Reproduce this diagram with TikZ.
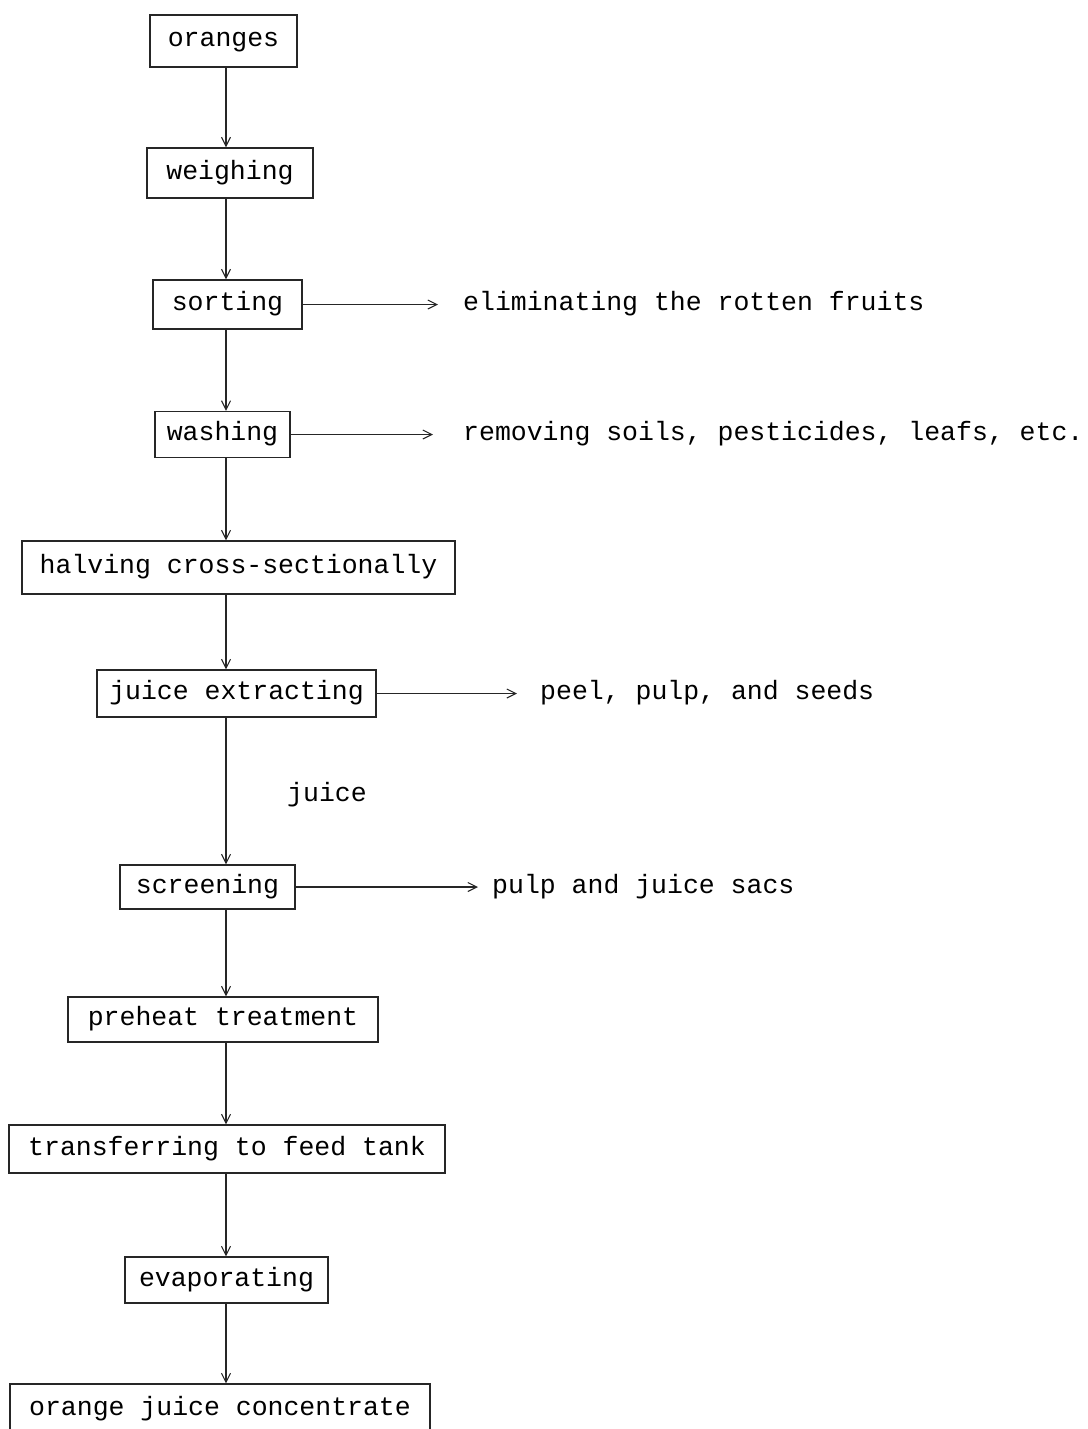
\documentclass[tikz,border=0pt]{standalone}
\usepackage{fontspec}
\setmonofont{Liberation Mono}
\usetikzlibrary{arrows.meta}

\begin{document}
\begin{tikzpicture}[x=1pt,y=-1pt]
\tikzstyle{every node}=[font=\ttfamily\fontsize{26.5}{30}\selectfont, text height=18pt, text depth=6pt]
\tikzstyle{stage}=[draw=black!85, line width=1.1pt, inner sep=0pt]
\tikzstyle{flow}=[-{Straight Barb[length=9pt,width=9pt]}, draw=black!85, line width=1.1pt]
\tikzstyle{waste}=[anchor=west, inner sep=0pt]
\useasboundingbox (0,0) rectangle (1087,1429);
\coordinate (spine) at (226,0);
\node [stage, minimum width=147pt, minimum height=52pt] (oranges) at (223.5,41) {oranges};
\node [stage, minimum width=166pt, minimum height=50pt] (weighing) at (230,173) {weighing};
\node [stage, minimum width=149pt, minimum height=49pt] (sorting) at (227.5,304.5) {sorting};
\node [stage, minimum width=135pt, minimum height=46pt] (washing) at (222.5,434.5) {washing};
\node [stage, minimum width=433pt, minimum height=53pt] (halving) at (238.5,567.5) {halving cross-sectionally};
\node [stage, minimum width=279pt, minimum height=47pt] (extracting) at (236.5,693.5) {juice extracting};
\node [stage, minimum width=175pt, minimum height=44pt] (screening) at (207.5,887) {screening};
\node [stage, minimum width=310pt, minimum height=45pt] (preheat) at (223,1019.5) {preheat treatment};
\node [stage, minimum width=436pt, minimum height=48pt] (transfer) at (227,1149) {transferring to feed tank};
\node [stage, minimum width=203pt, minimum height=46pt] (evaporating) at (226.5,1280) {evaporating};
\node [stage, minimum width=420pt, minimum height=50pt] (concentrate) at (220,1409) {orange juice concentrate};
\node [waste] (rotten) at (463,304.5) {eliminating the rotten fruits};
\node [waste] (soils) at (463,434.5) {removing soils, pesticides, leafs, etc.};
\node [waste] (peel) at (540,693.5) {peel, pulp, and seeds};
\node [waste] (sacs) at (492,887) {pulp and juice sacs};
\node (juice) at (327,795) {juice};
% main line
\draw [flow] (oranges.south -| spine) -- (weighing.north -| spine);
\draw [flow] (weighing.south -| spine) -- (sorting.north -| spine);
\draw [flow] (sorting.south -| spine) -- (washing.north -| spine);
\draw [flow] (washing.south -| spine) -- (halving.north -| spine);
\draw [flow] (halving.south -| spine) -- (extracting.north -| spine);
\draw [flow] (extracting.south -| spine) -- (screening.north -| spine);
\draw [flow] (screening.south -| spine) -- (preheat.north -| spine);
\draw [flow] (preheat.south -| spine) -- (transfer.north -| spine);
\draw [flow] (transfer.south -| spine) -- (evaporating.north -| spine);
\draw [flow] (evaporating.south -| spine) -- (concentrate.north -| spine);
% side streams
\draw [flow, shorten >=25pt] (sorting.east) -- (sorting.east -| rotten.west);
\draw [flow, shorten >=30pt] (washing.east) -- (washing.east -| soils.west);
\draw [flow, shorten >=23pt] (extracting.east) -- (extracting.east -| peel.west);
\draw [flow, shorten >=14pt] (screening.east) -- (screening.east -| sacs.west);
\end{tikzpicture}
\end{document}
